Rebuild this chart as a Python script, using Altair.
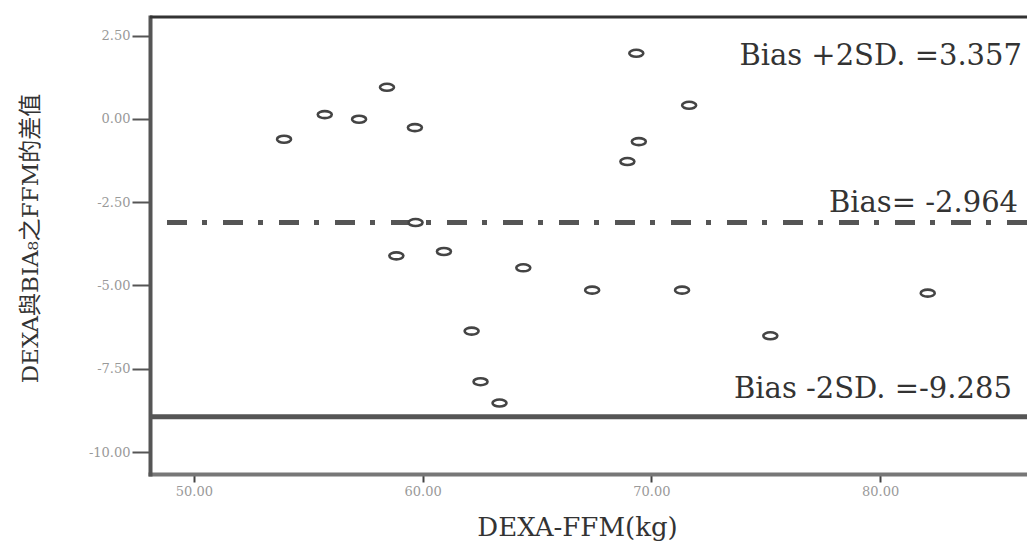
import altair as alt
import pandas as pd

# ---- data ----
dexa_ffm = [53.94, 55.72, 57.22, 58.44, 59.66, 59.69, 58.85, 60.93, 64.40, 62.14,
            62.53, 63.36, 67.41, 69.34, 71.65, 69.45, 68.95, 71.34, 75.20, 82.08]
diff = [-0.61, 0.13, -0.01, 0.95, -0.26, -3.11, -4.11, -3.98, -4.47, -6.37,
        -7.89, -8.53, -5.14, 1.97, 0.41, -0.68, -1.28, -5.14, -6.51, -5.23]

line_names = ["upper", "bias", "lower"]
line_values = [3.06, -3.11, -8.94]

label_texts = ["Bias +2SD. =3.357", "Bias= -2.964", "Bias -2SD. =-9.285"]
label_x = [86.2, 86.03, 85.76]
label_y = [1.62, -2.79, -8.38]

x_ticks = [50, 60, 70, 80]
y_ticks = [2.5, 0, -2.5, -5, -7.5, -10]
x_domain = [48.08, 86.42]
y_domain = [-10.66, 3.06]

SERIF = "DejaVu Serif, Noto Sans CJK TC"
ELLIPSE = "M-1,0A1,0.5 0 1,0 1,0A1,0.5 0 1,0 -1,0Z"
LABEL_EXPR = "(datum.value < 0 ? '-' : '') + format(abs(datum.value), '.2f')"

pts = pd.DataFrame({"x": dexa_ffm, "y": diff})
lines = pd.DataFrame({"name": line_names, "y": line_values})
labels = pd.DataFrame({"text": label_texts, "x": label_x, "y": label_y})

xs = alt.Scale(domain=x_domain, nice=False, zero=False)
ys = alt.Scale(domain=y_domain, nice=False, zero=False)

x_axis = alt.Axis(values=x_ticks, labelExpr=LABEL_EXPR, title="DEXA-FFM(kg)", grid=False,
                  domainWidth=4, domainColor="#777", domainCap="square",
                  tickSize=8, tickWidth=2, tickColor="#444",
                  labelFont=SERIF, labelFontSize=13, labelColor="#999", labelPadding=3,
                  titleFont=SERIF, titleFontSize=26, titleFontWeight="normal",
                  titleColor="#333", titleX=427, titleY=61,
                  titleAlign="center", titleBaseline="alphabetic")

y_axis = alt.Axis(values=y_ticks, labelExpr=LABEL_EXPR, title="DEXA與BIA₈之FFM的差值", grid=False,
                  domainWidth=4, domainColor="#555", domainCap="square",
                  tickSize=18, tickWidth=2, tickColor="#555",
                  labelFont=SERIF, labelFontSize=13, labelColor="#999", labelPadding=2,
                  titleFont=SERIF, titleFontSize=23, titleFontWeight="normal",
                  titleColor="#333", titleX=-120, titleY=221, titleAngle=270,
                  titleAlign="center", titleBaseline="middle")

base_pts = alt.Chart(pts).mark_point(
    shape=ELLIPSE, size=196, filled=True, fill="white",
    stroke="#444", strokeWidth=2.6, opacity=1
).encode(
    x=alt.X("x:Q", scale=xs, axis=x_axis),
    y=alt.Y("y:Q", scale=ys, axis=y_axis),
)

upper = alt.Chart(lines[lines.name == "upper"]).mark_rule(
    color="#333", strokeWidth=3
).encode(y=alt.Y("y:Q", scale=ys))

bias = alt.Chart(lines[lines.name == "bias"]).mark_rule(
    color="#555", strokeWidth=5, strokeDash=[20, 16, 5, 15]
).encode(y=alt.Y("y:Q", scale=ys))

lower = alt.Chart(lines[lines.name == "lower"]).mark_rule(
    color="#555", strokeWidth=5
).encode(y=alt.Y("y:Q", scale=ys))

txt = alt.Chart(labels).mark_text(
    align="right", baseline="alphabetic", font=SERIF, fontSize=29, color="#333"
).encode(
    x=alt.X("x:Q", scale=xs),
    y=alt.Y("y:Q", scale=ys),
    text="text:N",
)

chart = alt.layer(upper, bias, lower, base_pts, txt).properties(
    width=877, height=457,
    padding={"left": 150, "top": 17, "right": 0, "bottom": 69},
    autosize=alt.AutoSizeParams(type="none"),
    background="white",
).configure_view(strokeWidth=0)

chart.save("out.html", embed_options={"renderer": "svg", "actions": False})
